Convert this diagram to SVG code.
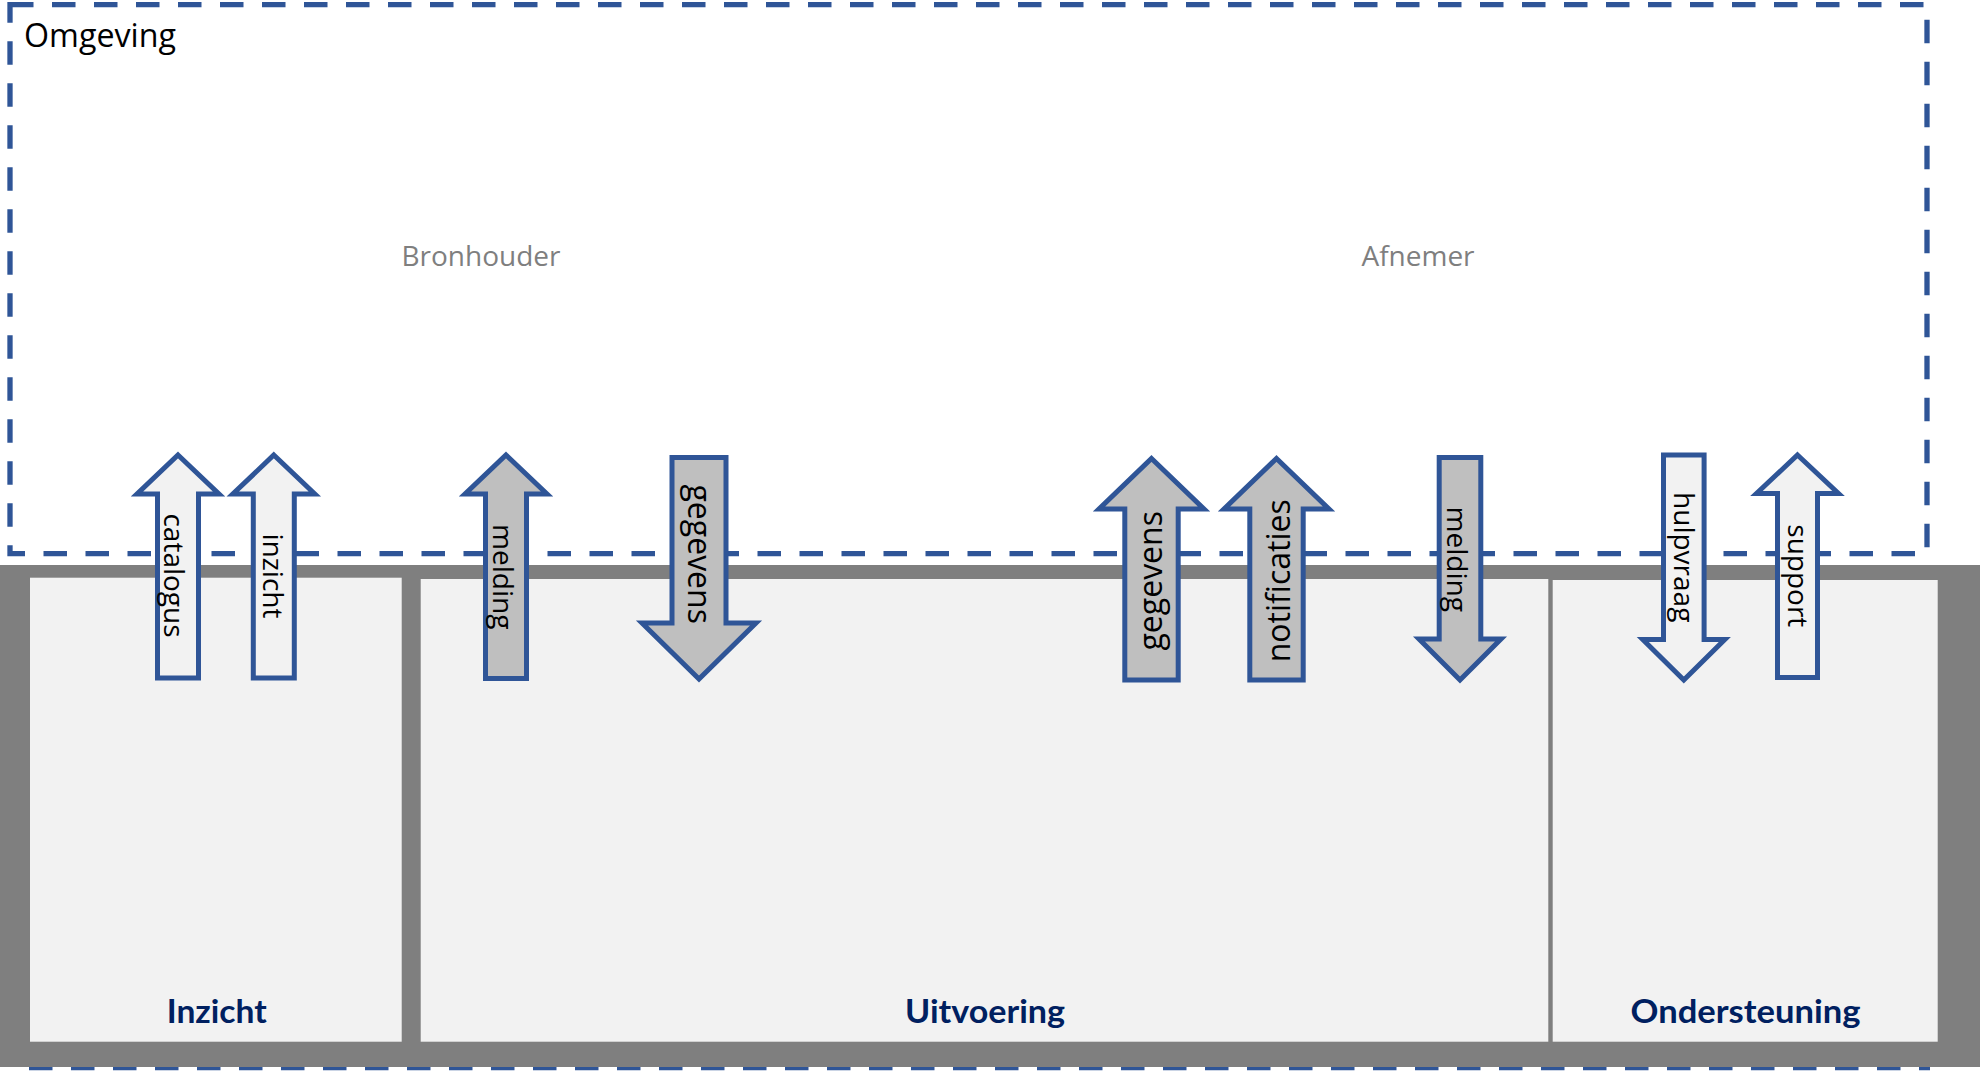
<svg xmlns="http://www.w3.org/2000/svg" width="1980" height="1083" viewBox="0 0 1980 1083">
<style>
.frame{fill:none;stroke:#2F5597;stroke-width:5.3;stroke-dasharray:23.5 18.5}
.panel{fill:#F2F2F2}
.arr{stroke:#2F5597;stroke-width:5;stroke-linejoin:miter}
.light{fill:#F2F2F2}
.dark{fill:#BFBFBF}
.lbl{font-family:"Open Sans","Liberation Sans",sans-serif;font-size:28px;fill:#000;text-anchor:middle}
.big{font-size:32px}
.area{font-family:"Open Sans","Liberation Sans",sans-serif;font-size:28px;fill:#7F7F7F;text-anchor:middle}
.title{font-family:"Lato","Open Sans",sans-serif;font-weight:bold;font-size:32px;fill:#002060;text-anchor:middle}
</style>
<rect width="1980" height="1083" fill="#FFFFFF"/>
<g id="omgeving">
  <rect class="frame" x="10" y="4.7" width="1917" height="549"/>
  <text x="24" y="46.5" textLength="152" lengthAdjust="spacingAndGlyphs" style="font-family:'Open Sans','Liberation Sans',sans-serif;font-size:32px;fill:#000">Omgeving</text>
  <text class="area" x="481" y="266">Bronhouder</text>
  <text class="area" x="1418" y="266">Afnemer</text>
</g>
<line class="frame" x1="29" y1="1067.5" x2="1930" y2="1067.5"/>
<g id="systeem">
  <rect x="0" y="565" width="1980" height="502" fill="#7F7F7F"/>
  <g id="inzicht">
    <rect class="panel" x="30" y="577.7" width="371.7" height="464"/>
    <text class="title" x="216.7" y="1023.3" textLength="100" lengthAdjust="spacingAndGlyphs">Inzicht</text>
  </g>
  <g id="uitvoering">
    <rect class="panel" x="420.7" y="579" width="1127.6" height="462.7"/>
    <text class="title" x="985" y="1023.3" textLength="160" lengthAdjust="spacingAndGlyphs">Uitvoering</text>
  </g>
  <g id="ondersteuning">
    <rect class="panel" x="1552.7" y="580" width="385" height="461.7"/>
    <text class="title" x="1745.5" y="1023.3" textLength="230" lengthAdjust="spacingAndGlyphs">Ondersteuning</text>
  </g>
</g>
<g id="connectors">
  <g id="arrow-catalogus">
    <path class="arr light" d="M178,455 L219,494 L198.5,494 L198.5,678 L157.5,678 L157.5,494 L137,494 Z"/>
    <text class="lbl" transform="translate(164.4,575.5) rotate(90)">catalogus</text>
  </g>
  <g id="arrow-inzicht">
    <path class="arr light" d="M273.8,455 L314.8,494 L294.3,494 L294.3,678 L253.3,678 L253.3,494 L232.8,494 Z"/>
    <text class="lbl" transform="translate(262.7,576) rotate(90)">inzicht</text>
  </g>
  <g id="arrow-melding-bron">
    <path class="arr dark" d="M506,455 L547,494 L526.5,494 L526.5,678.5 L485.5,678.5 L485.5,494 L465,494 Z"/>
    <text class="lbl" transform="translate(492.7,576.7) rotate(90)">melding</text>
  </g>
  <g id="arrow-gegevens-bron">
    <path class="arr dark" d="M672,457.5 L726,457.5 L726,623 L756,623 L699,679 L642,623 L672,623 Z"/>
    <text class="lbl big" transform="translate(687.9,554.2) rotate(90)">gegevens</text>
  </g>
  <g id="arrow-gegevens-afnemer">
    <path class="arr dark" d="M1151.5,458.5 L1204,509 L1178.2,509 L1178.2,680 L1124.8,680 L1124.8,509 L1099,509 Z"/>
    <text class="lbl big" transform="translate(1162.1,580.8) rotate(-90)">gegevens</text>
  </g>
  <g id="arrow-notificaties">
    <path class="arr dark" d="M1276.5,458.5 L1329,509 L1303.2,509 L1303.2,680 L1249.8,680 L1249.8,509 L1224,509 Z"/>
    <text class="lbl big" transform="translate(1289.5,580.8) rotate(-90)">notificaties</text>
  </g>
  <g id="arrow-melding-afnemer">
    <path class="arr dark" d="M1439.2,457.5 L1480.8,457.5 L1480.8,639 L1501,639 L1460,680 L1419,639 L1439.2,639 Z"/>
    <text class="lbl" transform="translate(1446.9,559.2) rotate(90)">melding</text>
  </g>
  <g id="arrow-hulpvraag">
    <path class="arr light" d="M1663.5,455 L1704.1,455 L1704.1,639.5 L1724.8,639.5 L1683.8,680 L1642.8,639.5 L1663.5,639.5 Z"/>
    <text class="lbl" transform="translate(1673.5,557.2) rotate(90)">hulpvraag</text>
  </g>
  <g id="arrow-support">
    <path class="arr light" d="M1797.5,455 L1838.5,493.5 L1817.5,493.5 L1817.5,677.5 L1777.5,677.5 L1777.5,493.5 L1756.5,493.5 Z"/>
    <text class="lbl" transform="translate(1787.7,575.8) rotate(90)">support</text>
  </g>
</g>
</svg>
